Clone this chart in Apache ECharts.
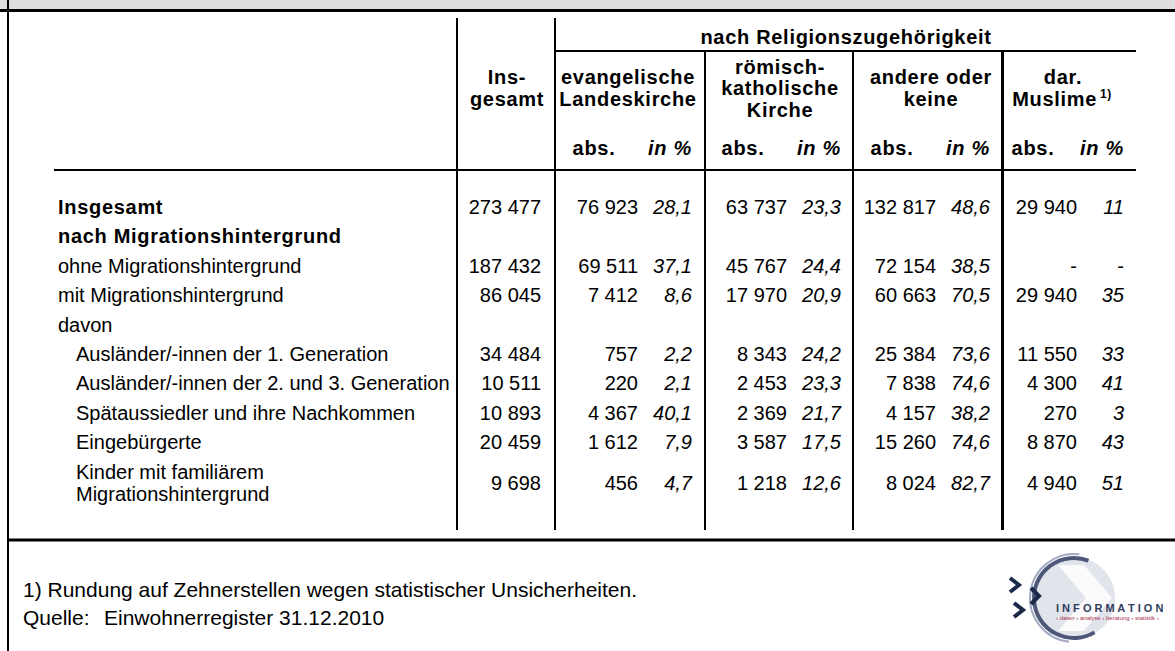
<!DOCTYPE html>
<html>
<head>
<meta charset="utf-8">
<title>Religionszugehörigkeit nach Migrationshintergrund</title>
<script src="https://cdn.jsdelivr.net/npm/echarts@6/dist/echarts.min.js"></script>
<style>
    html, body { margin: 0; padding: 0; background: #fff; }
    #table { width: 1175px; height: 651px; }
    /* fette Schrift ist im Original leicht gesperrt */
    #table text[style*="bold"] { letter-spacing: 0.7px; }
</style>
</head>
<body>
<div id="table"></div>
<script>
//*****Daten
var rowLabels = [
    'Insgesamt',
    'nach Migrationshintergrund',
    'ohne Migrationshintergrund',
    'mit Migrationshintergrund',
    'davon',
    'Ausländer/-innen der 1. Generation',
    'Ausländer/-innen der 2. und 3. Generation',
    'Spätaussiedler und ihre Nachkommen',
    'Eingebürgerte',
    'Kinder mit familiärem\nMigrationshintergrund'
]
// 0 = fett, 1 = normal, 2 = eingerückt
var rowLevel = [0, 0, 1, 1, 1, 2, 2, 2, 2, 2]

var insgesamt = [273477, null, 187432, 86045, null, 34484, 10511, 10893, 20459, 9698]
var evAbs = [76923, null, 69511, 7412, null, 757, 220, 4367, 1612, 456]
var evPct = [28.1, null, 37.1, 8.6, null, 2.2, 2.1, 40.1, 7.9, 4.7]
var rkAbs = [63737, null, 45767, 17970, null, 8343, 2453, 2369, 3587, 1218]
var rkPct = [23.3, null, 24.4, 20.9, null, 24.2, 23.3, 21.7, 17.5, 12.6]
var anAbs = [132817, null, 72154, 60663, null, 25384, 7838, 4157, 15260, 8024]
var anPct = [48.6, null, 38.5, 70.5, null, 73.6, 74.6, 38.2, 74.6, 82.7]
var muAbs = [29940, null, '-', 29940, null, 11550, 4300, 270, 8870, 4940]
var muPct = [11, null, '-', 35, null, 33, 41, 3, 43, 51]

var groupTitle = 'nach Religionszugehörigkeit'
var headLabels = ['Ins-\ngesamt', 'evangelische\nLandeskirche', 'römisch-\nkatholische\nKirche', 'andere oder\nkeine', 'dar.\nMuslime{sup|1)}']
var subLabels = ['abs.', 'in %']
var footnote = '1) Rundung auf Zehnerstellen wegen statistischer Unsicherheiten.'
var sourceLabel = 'Quelle:'
var sourceText = 'Einwohnerregister 31.12.2010'
var logoText = 'I N F O R M A T I O N'
var logoTag = '› daten › analyse › beratung › statistik ›'

//*****Layout
var FONT = '"Liberation Sans", Arial, Helvetica, sans-serif'
var W = 1175, H = 651
var labelX = [58, 58, 76]
var columns = [insgesamt, evAbs, evPct, rkAbs, rkPct, anAbs, anPct, muAbs, muPct]
var colDigits = [-1, -1, 1, -1, 1, -1, 1, -1, 0]   // -1 = absolut
var colRight = [541, 638, 692, 787, 841, 936, 990, 1077, 1124]
var headCenter = [507, 628, 780, 931, 1063]
var rowTop = 207, rowStep = 29.4, lineH = 22

// Zeilenpositionen aus der Zeilenzahl der Beschriftung
var rowPos = [], acc = 0
rowLabels.forEach(function (l) {
    var extra = (l.split('\n').length - 1) * lineH / rowStep
    rowPos.push(acc + extra / 2)
    acc += 1 + extra
})
var rowMax = rowPos[rowPos.length - 1]

function fmt(v, d) {
    if (typeof v !== 'number') return v
    if (d < 0) return String(v).replace(/\B(?=(\d{3})+(?!\d))/g, ' ')
    return v.toFixed(d).replace('.', ',')
}

function txt(x, y, text, font, align, extra) {
    var style = { text: text, fill: '#000', font: font, align: align || 'left', verticalAlign: 'middle' }
    for (var k in extra) style[k] = extra[k]
    return { type: 'text', x: x, y: y, silent: true, style: style }
}

function rule(x1, y1, x2, y2, w) {
    return { type: 'line', silent: true, shape: { x1: x1, y1: y1, x2: x2, y2: y2 }, style: { stroke: '#000', lineWidth: w } }
}

//*****Rahmen, Kopf, Fußnote
var graphics = [
    { type: 'rect', silent: true, shape: { x: 0, y: 0, width: W, height: 10 }, style: { fill: '#dedede' } },
    rule(0, 10.5, W, 10.5, 3),
    rule(8, 0, 8, H, 2),
    rule(457, 18, 457, 530, 2),
    rule(555, 18, 555, 530, 2),
    rule(705, 51, 705, 530, 2),
    rule(853, 51, 853, 530, 2),
    rule(1002.5, 51, 1002.5, 530, 3),
    rule(555, 51, 1136, 51, 2),
    rule(54, 170, 1136, 170, 2),
    rule(8, 540, W, 540, 3),
    txt(846, 37, groupTitle, 'bold 20px ' + FONT, 'center')
]
headLabels.forEach(function (t, k) {
    graphics.push(txt(headCenter[k], 88, t, 'bold 20px ' + FONT, 'center', {
        lineHeight: 21.5,
        rich: { sup: { font: 'bold 12px ' + FONT, verticalAlign: 'top', lineHeight: 2, padding: [0, 0, 0, 6] } }
    }))
})
for (var g = 0; g < 4; g++) {
    graphics.push(txt(colRight[1 + 2 * g] - 44, 148, subLabels[0], 'bold 20px ' + FONT, 'center'))
    graphics.push(txt(colRight[2 + 2 * g], 148, subLabels[1], 'italic bold 20px ' + FONT, 'right'))
}
graphics.push(txt(23, 589, footnote, '21px ' + FONT))
graphics.push(txt(23, 617, sourceLabel, '21px ' + FONT))
graphics.push(txt(104, 617, sourceText, '21px ' + FONT))

// Logo
graphics.push(
    { type: 'circle', silent: true, shape: { cx: 1074, cy: 598, r: 41 }, style: { fill: '#e2e4ec' } },
    { type: 'polygon', silent: true, shape: { points: [[1058, 565], [1084, 565], [1112, 598], [1084, 631], [1058, 631], [1086, 598]] }, style: { fill: '#fff', opacity: 0.85 } },
    { type: 'arc', silent: true, shape: { cx: 1074, cy: 598, r: 44, startAngle: -1.45, endAngle: -4.6, clockwise: false }, style: { stroke: '#a3abc2', lineWidth: 2, fill: null } },
    { type: 'arc', silent: true, shape: { cx: 1074, cy: 598, r: 40, startAngle: -1.2, endAngle: -5.25, clockwise: false }, style: { stroke: '#4d5879', lineWidth: 4, fill: null } },
    { type: 'polyline', silent: true, shape: { points: [[1010, 578], [1019, 585], [1010, 592]] }, style: { stroke: '#1b2a4a', lineWidth: 4, fill: null } },
    { type: 'polyline', silent: true, shape: { points: [[1031, 588], [1039, 596], [1031, 604]] }, style: { stroke: '#1b2a4a', lineWidth: 4, fill: null } },
    { type: 'polyline', silent: true, shape: { points: [[1014, 603], [1023, 610], [1014, 617]] }, style: { stroke: '#1b2a4a', lineWidth: 4, fill: null } },
    txt(1056, 608, logoText, '800 11px ' + FONT, 'left', { fill: '#2f3d5c' }),
    txt(1056, 618, logoTag, '6px ' + FONT, 'left', { fill: '#a8324a' })
)

//*****Tabelle
var myChart = echarts.init(document.getElementById('table'), null, { renderer: 'svg' })
myChart.setOption({
    animation: false,
    backgroundColor: '#fff',
    grid: { left: 0, right: 0, top: rowTop, height: rowStep * rowMax },
    xAxis: { type: 'value', min: 0, max: W, show: false },
    yAxis: { type: 'value', min: 0, max: rowMax, inverse: true, show: false },
    graphic: graphics,
    series: [{
        type: 'custom',
        clip: false,
        silent: true,
        data: rowLabels.map(function (l, i) { return [0, rowPos[i], i] }),
        renderItem: function (params, api) {
            var i = api.value(2)
            var y = api.coord([0, api.value(1)])[1]
            var lvl = rowLevel[i]
            var kids = [txt(api.coord([labelX[lvl], 0])[0], y, rowLabels[i],
                (lvl === 0 ? 'bold ' : '') + '20px ' + FONT, 'left', { lineHeight: lineH })]
            columns.forEach(function (col, c) {
                var v = col[i]
                if (v == null) return
                var font = (colDigits[c] >= 0 && typeof v === 'number' ? 'italic ' : '') + '20px ' + FONT
                kids.push(txt(api.coord([colRight[c], 0])[0], y, fmt(v, colDigits[c]), font, 'right'))
            })
            return { type: 'group', children: kids }
        }
    }]
})
</script>
</body>
</html>
